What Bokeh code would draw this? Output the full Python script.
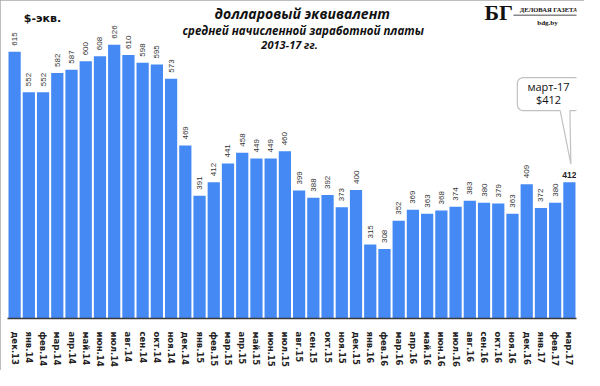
import numpy as np
from bokeh.plotting import figure
from bokeh.models import FactorRange, Range1d, ColumnDataSource, Label, PolyAnnotation
from bokeh.core.properties import value
from bokeh.embed import file_html
from bokeh.resources import INLINE

months = ["дек.13", "янв.14", "фев.14", "мар.14", "апр.14", "май.14", "июн.14", "июл.14",
          "авг.14", "сен.14", "окт.14", "ноя.14", "дек.14", "янв.15", "фев.15", "мар.15",
          "апр.15", "май.15", "июн.15", "июл.15", "авг.15", "сен.15", "окт.15", "ноя.15",
          "дек.15", "янв.16", "фев.16", "мар.16", "апр.16", "май.16", "июн.16", "июл.16",
          "авг.16", "сен.16", "окт.16", "ноя.16", "дек.16", "янв.17", "фев.17", "мар.17"]
usd = [615, 552, 552, 582, 587, 600, 608, 626, 610, 598, 595, 573, 469, 391, 412, 441,
       458, 449, 449, 460, 399, 388, 392, 373, 400, 315, 308, 352, 369, 363, 368, 374,
       383, 380, 379, 363, 409, 372, 380, 412]

title1 = "долларовый эквивалент"
title2 = "средней начисленной заработной платы"
title3 = "2013-17 гг."
unit_label = "$-экв."
callout_line1 = "март-17"
callout_line2 = "$412"

W, H = 584, 370
FL, FR, FT, FB = 7, 576, 3, 324  # frame edges in px of the figure
SX, SY = W / 600.0, H / 386.0
YMIN, YMAX = 200, 690
N = len(months)


def dx(xr):
    return (xr * SX - FL) / (FR - FL) * N


def dy(yr):
    return YMIN + (FB - yr * SY) / (FB - FT) * (YMAX - YMIN)


p = figure(width=W, height=H, output_backend="svg", toolbar_location=None,
           x_range=FactorRange(factors=months, range_padding=0),
           y_range=Range1d(YMIN, YMAX),
           min_border_left=FL, min_border_right=W - FR, min_border_top=FT,
           min_border_bottom=H - FB)
p.styles = {"outline": "1px solid #a8a8a8", "outline-offset": "-1px"}
p.outline_line_color = None
p.xgrid.visible = False
p.ygrid.visible = False
p.yaxis.visible = False
p.background_fill_color = "white"
p.border_fill_color = "white"

src = ColumnDataSource(dict(m=months, v=usd))
p.vbar(x="m", top="v", bottom=YMIN, width=0.86, source=src,
       fill_color="#4589F5", line_color=None)

lab = ColumnDataSource(dict(m=months[:-1], v=usd[:-1], t=[str(v) for v in usd[:-1]]))
p.text(x="m", y="v", text="t", source=lab, angle=np.pi / 2, text_align="left",
       text_baseline="middle", y_offset=-6, text_font=value("Liberation Sans"),
       text_font_size="8px", text_color="#333333")

last = ColumnDataSource(dict(m=months[-1:], v=usd[-1:], t=[str(usd[-1])]))
p.text(x="m", y="v", text="t", source=last, text_align="center",
       text_baseline="bottom", y_offset=-4, text_font=value("Liberation Sans"),
       text_font_size="8.5px", text_font_style="bold", text_color="#222222")

ax = p.xaxis[0]
ax.major_label_orientation = "vertical"
ax.major_label_text_font = "DejaVu Sans"
ax.major_label_text_font_style = "bold"
ax.major_label_text_font_size = "8.5px"
ax.major_label_text_color = "#222222"
ax.major_label_standoff = 7
ax.major_tick_line_color = None
ax.minor_tick_line_color = None
ax.axis_line_color = "#3a3a3a"
ax.axis_line_width = 1.5


def add_label(text, xr, yr, size, font="Open Sans", style="bold italic", align="center",
              color="#111111", baseline="middle"):
    p.add_layout(Label(x=dx(xr), y=dy(yr), text=text,
                       text_align=align, text_baseline=baseline, text_font=font,
                       text_font_style=style, text_font_size=size, text_color=color))


add_label(title1, 310, 14, "14px")
add_label(title2, 311, 32, "11.5px")
add_label(title3, 297, 47, "11px")
add_label(unit_label, 24, 19, "11px", font="DejaVu Sans", style="bold", align="left")

# logo
add_label("БГ", 512, 13, "22px", font="Liberation Serif", style="bold")
add_label("ДЕЛОВАЯ ГАЗЕТА", 593, 10, "6.5px", font="Liberation Serif", style="bold",
          align="right")
add_label("bdg.by", 562, 24, "7px", font="Liberation Serif", style="bold")
p.add_layout(PolyAnnotation(xs=[dx(527), dx(593), dx(593), dx(527)],
                            ys=[dy(15), dy(15), dy(16), dy(16)],
                            fill_color="#111111", fill_alpha=1, line_color=None))


# callout shape
def callout_path(L, T, R, B, r, pl, pr, tip):
    pts = []

    def arc(cx, cy, a0, a1):
        for a in np.linspace(a0, a1, 6):
            pts.append((cx + r * np.cos(a), cy + r * np.sin(a)))

    arc(L + r, T + r, np.pi, 1.5 * np.pi)
    arc(R - r, T + r, 1.5 * np.pi, 2 * np.pi)
    arc(R - r, B - r, 0, 0.5 * np.pi)
    pts.append((pr, B))
    pts.append(tip)
    pts.append((pl, B))
    arc(L + r, B - r, 0.5 * np.pi, np.pi)
    return pts


pts = callout_path(531, 82, 596, 117, 6, 575, 585, (586, 174))
p.add_layout(PolyAnnotation(xs=[dx(a) for a, b in pts], ys=[dy(b) for a, b in pts],
                            fill_color="white", fill_alpha=1, line_color="#333333",
                            line_width=1.2))
add_label(callout_line1, 563, 91, "11px", font="Open Sans", style="normal")
add_label(callout_line2, 563, 105, "11px", font="Open Sans", style="normal")

open("out.html", "w").write(file_html(p, INLINE))
